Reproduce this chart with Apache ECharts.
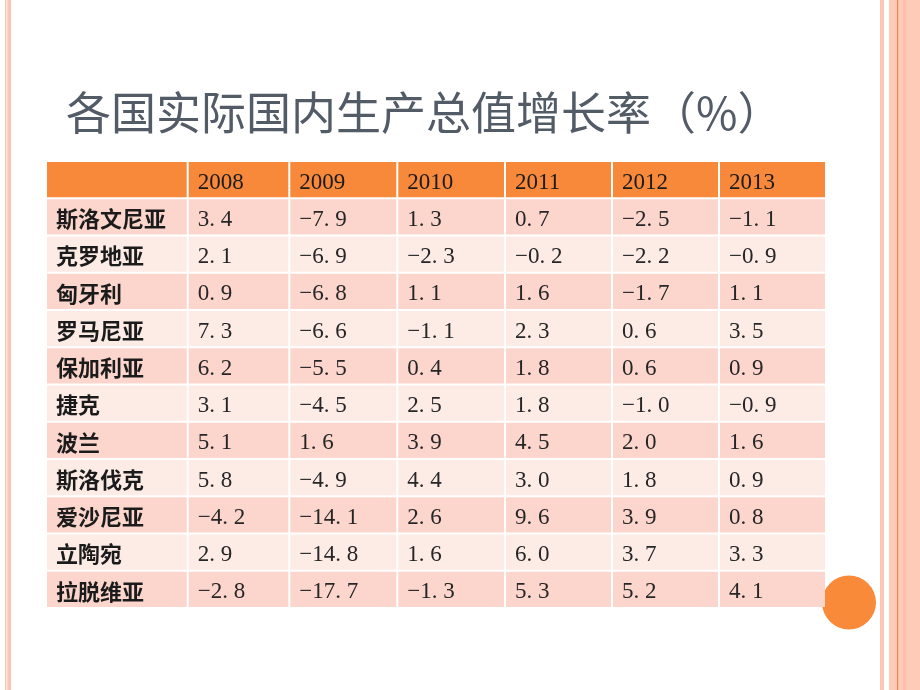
<!DOCTYPE html>
<html>
<head>
<meta charset="utf-8">
<script src="https://cdn.jsdelivr.net/npm/echarts@6/dist/echarts.min.js"></script>
<style>
html,body{margin:0;padding:0;background:#fff;}
#chart{width:920px;height:690px;}
</style>
</head>
<body>
<div id="chart"></div>
<script>
// ---- data ----
var titleText = '各国实际国内生产总值增长率（%）';
var countries = ['斯洛文尼亚','克罗地亚','匈牙利','罗马尼亚','保加利亚','捷克','波兰','斯洛伐克','爱沙尼亚','立陶宛','拉脱维亚'];
var years = ['2008','2009','2010','2011','2012','2013'];
var g2008 = [3.4, 2.1, 0.9, 7.3, 6.2, 3.1, 5.1, 5.8, -4.2, 2.9, -2.8];
var g2009 = [-7.9, -6.9, -6.8, -6.6, -5.5, -4.5, 1.6, -4.9, -14.1, -14.8, -17.7];
var g2010 = [1.3, -2.3, 1.1, -1.1, 0.4, 2.5, 3.9, 4.4, 2.6, 1.6, -1.3];
var g2011 = [0.7, -0.2, 1.6, 2.3, 1.8, 1.8, 4.5, 3.0, 9.6, 6.0, 5.3];
var g2012 = [-2.5, -2.2, -1.7, 0.6, 0.6, -1.0, 2.0, 1.8, 3.9, 3.7, 5.2];
var g2013 = [-1.1, -0.9, 1.1, 3.5, 0.9, -0.9, 1.6, 0.9, 0.8, 3.3, 4.1];
var seriesValues = [g2008, g2009, g2010, g2011, g2012, g2013];

// ---- layout (column width units) ----
var colWidths = [141.7, 101.6, 108, 107.7, 107, 107, 107];
var colStarts = [];
var acc = 0;
for (var i = 0; i < colWidths.length; i++) { colStarts.push(acc); acc += colWidths[i]; }
var totalWidth = acc;

function fmt(v) {
  var s = Math.abs(v).toFixed(1).replace('.', '. ');
  return (v < 0 ? '\u2212' : '') + s;
}

var rowNames = ['表头'].concat(countries);
var cellData = [];
var cellText = [];
var cellKind = [];
// header row
for (var c = 0; c < colWidths.length; c++) {
  cellData.push([colStarts[c], colStarts[c] + colWidths[c], 0, cellText.length]);
  cellText.push(c === 0 ? '' : years[c - 1]);
  cellKind.push('header');
}
for (var r = 0; r < countries.length; r++) {
  cellData.push([colStarts[0], colStarts[0] + colWidths[0], r + 1, cellText.length]);
  cellText.push(countries[r]);
  cellKind.push(r % 2 === 0 ? 'odd-name' : 'even-name');
  for (var y = 0; y < years.length; y++) {
    var c2 = y + 1;
    cellData.push([colStarts[c2], colStarts[c2] + colWidths[c2], r + 1, cellText.length]);
    cellText.push(fmt(seriesValues[y][r]));
    cellKind.push(r % 2 === 0 ? 'odd' : 'even');
  }
}

var chart = echarts.init(document.getElementById('chart'), null, {renderer: 'canvas'});

var option = {
  backgroundColor: '#ffffff',
  animation: false,
  title: {
    text: titleText,
    left: 66,
    top: 90,
    padding: 0,
    textStyle: {
      fontFamily: '"Noto Sans CJK SC"',
      fontSize: 45,
      fontWeight: 'normal',
      color: '#535b67',
      lineHeight: 46
    }
  },
  grid: {left: 46, top: 161, width: 780, height: 447},
  xAxis: {type: 'value', min: 0, max: totalWidth, show: false},
  yAxis: {type: 'category', data: rowNames, inverse: true, show: false},
  graphic: [
    // left decorative stripes
    {type: 'rect', shape: {x: 5, y: 0, width: 6, height: 690}, style: {fill: '#f9c6b4'}, z: 0},
    {type: 'rect', shape: {x: 6, y: 0, width: 1.5, height: 690}, style: {fill: '#fde3d9'}, z: 0},
    // right decorative stripes
    {type: 'rect', shape: {x: 880, y: 0, width: 4, height: 690}, style: {fill: '#fbc7b4'}, z: 0},
    {type: 'rect', shape: {x: 889, y: 0, width: 31, height: 690}, style: {fill: '#fdcbb8'}, z: 0},
    {type: 'rect', shape: {x: 897, y: 0, width: 1.2, height: 690}, style: {fill: '#e98a4c'}, z: 0},
    {type: 'rect', shape: {x: 903, y: 0, width: 3, height: 690}, style: {fill: '#fbbfab'}, z: 0},
    // orange circle
    {type: 'circle', shape: {cx: 849, cy: 602.5, r: 27}, style: {fill: '#f98a3a'}, z: 0}
  ],
  series: [{
    type: 'custom',
    z: 5,
    encode: {x: [0, 1], y: 2},
    data: cellData,
    renderItem: function (params, api) {
      var x0 = api.value(0), x1 = api.value(1), row = api.value(2), idx = api.value(3);
      var p0 = api.coord([x0, row]);
      var p1 = api.coord([x1, row]);
      var h = api.size([0, 1])[1];
      var kind = cellKind[idx];
      var fill, font, color = '#1b1b1b', dy = 3;
      if (kind === 'header') {
        fill = '#f8893a';
        font = '23px "Liberation Serif"';
        color = '#1a1a1a';
      } else if (kind === 'odd-name' || kind === 'odd') {
        fill = '#fcd6cc';
      } else {
        fill = '#fdebe6';
      }
      if (kind === 'odd-name' || kind === 'even-name') {
        font = 'bold 22px "Noto Sans CJK SC"';
        dy = 2;
      } else if (kind !== 'header') {
        font = '23px "Liberation Serif"';
        color = '#262626';
      }
      return {
        type: 'rect',
        shape: {x: p0[0] + 1, y: p0[1] - h / 2 + 1, width: p1[0] - p0[0] - 2, height: h - 2},
        style: {fill: fill},
        textContent: {
          style: {text: cellText[idx], fill: color, font: font}
        },
        textConfig: {position: 'insideLeft', distance: 9, offset: [0, dy]}
      };
    }
  }]
};
chart.setOption(option);
</script>
</body>
</html>
